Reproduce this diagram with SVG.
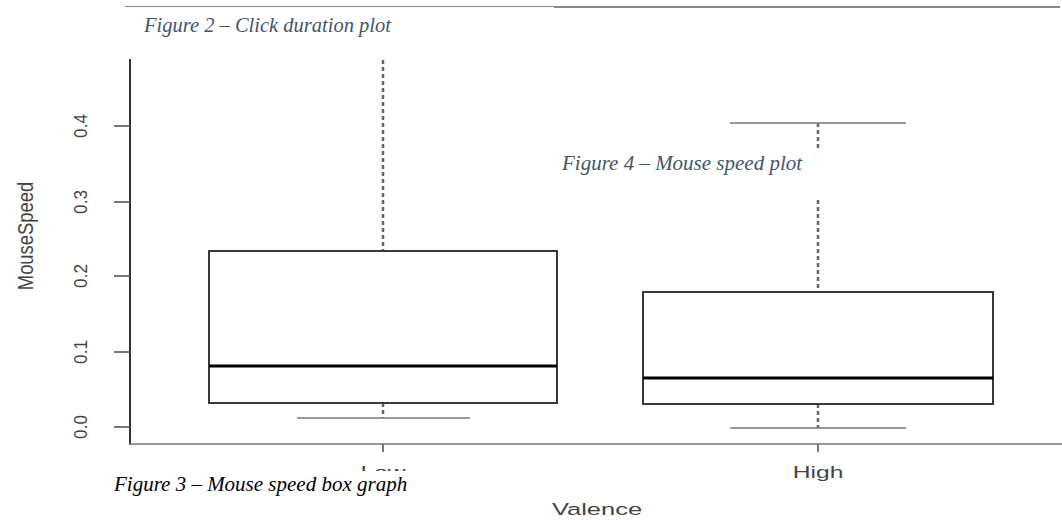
<svg xmlns="http://www.w3.org/2000/svg" width="1062" height="520" viewBox="0 0 1062 520">
<style>
.cap{font-family:"Liberation Serif","Times New Roman",serif;font-style:italic;font-size:21px}
.blue{fill:#44546A}
.blk{fill:#000}
.ax{font-family:"Liberation Sans",Arial,sans-serif;fill:#444}
.box{fill:#fff;stroke:#3a3a3a;stroke-width:2}
.med{stroke:#000;stroke-width:3}
.whisk{stroke:#666;stroke-width:2.5;stroke-dasharray:4 3;fill:none}
.capl{stroke:#777;stroke-width:1.6}
.tick{stroke:#555;stroke-width:1.6}
</style>
<defs>
<clipPath id="lowclip"><rect x="340" y="455" width="90" height="16"/></clipPath>
</defs>
<rect width="1062" height="520" fill="#fff"/>
<g id="page-rule">
<line x1="125" y1="6.5" x2="554" y2="6.5" stroke="#8a8a8a" stroke-width="1"/>
<line x1="554" y1="7" x2="1060" y2="7" stroke="#888" stroke-width="2"/>
</g>
<g id="axes">
<line x1="130" y1="59" x2="130" y2="445" stroke="#333" stroke-width="2"/>
<line x1="129" y1="444" x2="1062" y2="444" stroke="#777" stroke-width="1.6"/>
<line class="tick" x1="114" y1="126" x2="130" y2="126"/>
<line class="tick" x1="114" y1="202" x2="130" y2="202"/>
<line class="tick" x1="114" y1="276" x2="130" y2="276"/>
<line class="tick" x1="114" y1="352" x2="130" y2="352"/>
<line class="tick" x1="114" y1="427" x2="130" y2="427"/>
<line class="tick" x1="383" y1="444" x2="383" y2="452" stroke-width="2"/>
<line class="tick" x1="818" y1="444" x2="818" y2="452" stroke-width="2"/>
<g class="ax" font-size="18" text-anchor="middle">
<text transform="translate(87,126) rotate(-90) scale(0.95,1.05)">0.4</text>
<text transform="translate(87,202) rotate(-90) scale(0.95,1.05)">0.3</text>
<text transform="translate(87,276) rotate(-90) scale(0.95,1.05)">0.2</text>
<text transform="translate(87,352) rotate(-90) scale(0.95,1.05)">0.1</text>
<text transform="translate(87,427) rotate(-90) scale(0.95,1.05)">0.0</text>
<text transform="translate(33,236) rotate(-90) scale(0.92,1.1)" font-size="20">MouseSpeed</text>
<text transform="translate(818,478) scale(1.45,1)" font-size="17">High</text>
<text transform="translate(597,515) scale(1.5,1)" font-size="17">Valence</text>
</g>
<g class="ax" clip-path="url(#lowclip)" text-anchor="middle">
<text transform="translate(383,478) scale(1.45,1)" font-size="17">Low</text>
</g>
</g>
<g id="box-low">
<line class="whisk" x1="383" y1="60" x2="383" y2="251"/>
<line class="whisk" x1="383" y1="403" x2="383" y2="418"/>
<line class="capl" x1="297" y1="418" x2="470" y2="418"/>
<rect class="box" x="209" y="251" width="348" height="152"/>
<line class="med" x1="209" y1="366" x2="557" y2="366"/>
</g>
<g id="box-high">
<line class="whisk" x1="818" y1="123" x2="818" y2="292"/>
<line class="whisk" x1="818" y1="404" x2="818" y2="428"/>
<line class="capl" x1="730" y1="123" x2="906" y2="123"/>
<line class="capl" x1="730" y1="428" x2="906" y2="428"/>
<rect class="box" x="643" y="292" width="350" height="112"/>
<line class="med" x1="643" y1="378" x2="993" y2="378"/>
</g>
<g id="caption-2">
<text class="cap blue" x="144" y="32" style="font-size:20.5px">Figure 2 – Click duration plot</text>
</g>
<g id="caption-4">
<rect x="555" y="149" width="275" height="50" fill="#fff"/>
<text class="cap blue" x="562" y="170">Figure 4 – Mouse speed plot</text>
</g>
<g id="caption-3">
<text class="cap blk" x="114" y="491">Figure 3 – Mouse speed box graph</text>
</g>
</svg>
